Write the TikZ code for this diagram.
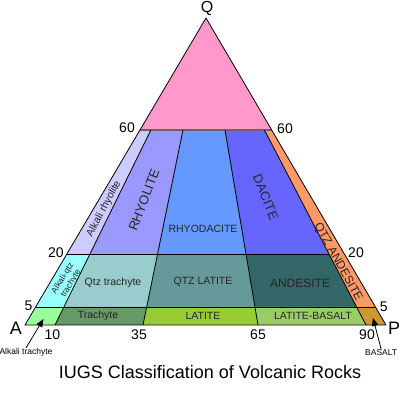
\documentclass[tikz,border=0pt]{standalone}
\usepackage{fontspec}
\setmainfont{Liberation Sans}
\usetikzlibrary{arrows.meta}
\definecolor{cquartz}{RGB}{255,153,204}
\definecolor{calkrhy}{RGB}{204,204,255}
\definecolor{crhy}{RGB}{153,153,255}
\definecolor{crhyda}{RGB}{102,153,255}
\definecolor{cdac}{RGB}{102,102,255}
\definecolor{cqand}{RGB}{255,153,102}
\definecolor{calkqtr}{RGB}{153,255,255}
\definecolor{cqtr}{RGB}{153,204,204}
\definecolor{cqlat}{RGB}{102,153,153}
\definecolor{cand}{RGB}{51,102,102}
\definecolor{calktr}{RGB}{153,255,153}
\definecolor{ctr}{RGB}{102,153,102}
\definecolor{clat}{RGB}{153,204,51}
\definecolor{clatbas}{RGB}{153,204,102}
\definecolor{cbas}{RGB}{204,153,51}
\tikzset{
  edge/.style={line width=0.8pt, line join=round},
  rock/.style={inner sep=0pt, text=black!85, font=\fontsize{10.5}{12}\selectfont},
  bigrock/.style={inner sep=0pt, text=black!85, font=\fontsize{13}{14}\selectfont},
  tick/.style={inner sep=0pt, font=\fontsize{14}{15}\selectfont},
  corner/.style={inner sep=0pt, font=\fontsize{18}{19}\selectfont},
  note/.style={inner sep=0pt, font=\fontsize{8.5}{9}\selectfont},
  pointer/.style={line width=0.8pt, -{Triangle[length=8pt,width=6.5pt]}}
}
\begin{document}
\begin{tikzpicture}[x=1pt,y=1pt]
\useasboundingbox (0,0) rectangle (402,403);
\coordinate (q) at (206,385);
\coordinate (b0) at (25,78);
\coordinate (b1) at (55,78);
\coordinate (b2) at (143,78);
\coordinate (b3) at (258,78);
\coordinate (b4) at (366,78);
\coordinate (b5) at (386,78);
\coordinate (f0) at (35.6,96);
\coordinate (f1) at (63.9,96);
\coordinate (f2) at (146.7,96);
\coordinate (f3) at (255,96);
\coordinate (f4) at (356.6,96);
\coordinate (f5) at (375.5,96);
\coordinate (t0) at (66.9,149);
\coordinate (t1) at (89.9,149);
\coordinate (t2) at (157.6,149);
\coordinate (t3) at (246,149);
\coordinate (t4) at (329,149);
\coordinate (t5) at (344.4,149);
\coordinate (s0) at (140,273);
\coordinate (s1) at (150.9,273);
\coordinate (s2) at (183,273);
\coordinate (s3) at (225,273);
\coordinate (s4) at (264.4,273);
\coordinate (s5) at (271.7,273);
\fill[cquartz] (q) -- (s0) -- (s5) -- cycle;
\fill[calkrhy] (t0) -- (t1) -- (s1) -- (s0) -- cycle;
\fill[crhy] (t1) -- (t2) -- (s2) -- (s1) -- cycle;
\fill[crhyda] (t2) -- (t3) -- (s3) -- (s2) -- cycle;
\fill[cdac] (t3) -- (t4) -- (s4) -- (s3) -- cycle;
\fill[cqand] (f4) -- (f5) -- (s5) -- (s4) -- cycle;
\fill[calkqtr] (f0) -- (f1) -- (t1) -- (t0) -- cycle;
\fill[cqtr] (f1) -- (f2) -- (t2) -- (t1) -- cycle;
\fill[cqlat] (f2) -- (f3) -- (t3) -- (t2) -- cycle;
\fill[cand] (f3) -- (f4) -- (t4) -- (t3) -- cycle;
\fill[calktr] (b0) -- (b1) -- (f1) -- (f0) -- cycle;
\fill[ctr] (b1) -- (b2) -- (f2) -- (f1) -- cycle;
\fill[clat] (b2) -- (b3) -- (f3) -- (f2) -- cycle;
\fill[clatbas] (b3) -- (b4) -- (f4) -- (f3) -- cycle;
\fill[cbas] (b4) -- (b5) -- (f5) -- (f4) -- cycle;
\draw[edge, black!60, line width=1.3pt] (s0) -- (s5);
\draw[edge] (t0) -- (t4);
\draw[edge] (f0) -- (f5);
\draw[edge] (s1) -- (b1);
\draw[edge] (s2) -- (b2);
\draw[edge] (s3) -- (b3);
\draw[edge] (s4) -- (b4);
\draw[edge] (q) -- (b0) -- (b5) -- cycle;
\node[rock, rotate=62] (alkrhy) at (104,194) {Alkali rhyolite};
\node[bigrock, rotate=69] (rhy) at (144,203) {RHYOLITE};
\node[rock] (rhyda) at (203,174) {RHYODACITE};
\node[bigrock, rotate=-68] (dac) at (265.7,205.7) {DACITE};
\node[rock, font=\fontsize{12}{13}\selectfont, rotate=-61] (qand) at (338,141) {QTZ ANDESITE};
\node[note, text=black!85, rotate=58, align=center, font=\fontsize{8.5}{9.5}\selectfont] (alkqtr) at (67,122) {Alkali-qtz\\trachyte};
\node[rock] (qtr) at (113,120) {Qtz trachyte};
\node[rock] (qlat) at (203,121) {QTZ LATITE};
\node[rock, font=\fontsize{12}{13}\selectfont] (and) at (300,120) {ANDESITE};
\node[rock] (tr) at (98,87) {Trachyte};
\node[rock] (lat) at (203,87) {LATITE};
\node[rock] (latbas) at (313,87) {LATITE-BASALT};
\node[corner, font=\fontsize{16}{17}\selectfont] (qlab) at (207,395) {Q};
\node[corner] (alab) at (16,75) {A};
\node[corner] (plab) at (394,75) {P};
\node[tick] (l60) at (127,275) {60};
\node[tick] (r60) at (285,274) {60};
\node[tick] (l20) at (56,150) {20};
\node[tick] (r20) at (356,150) {20};
\node[tick] (l5) at (28.5,97) {5};
\node[tick] (r5) at (383.7,96) {5};
\node[tick] (n10) at (52.5,68) {10};
\node[tick] (n35) at (139,68) {35};
\node[tick] (n65) at (258,68) {65};
\node[tick] (n90) at (367,68) {90};
\node[note] (alktr) at (26,51) {Alkali trachyte};
\node[note, anchor=west] (bas) at (365,50.5) {BASALT};
\coordinate (alktip) at (43.5,84);
\coordinate (bastip) at (373,85);
\draw[pointer] (alktr.north) -- (alktip);
\draw[pointer] (bas.north) -- (bastip);
\node[inner sep=0pt, anchor=base, font=\fontsize{18}{19}\selectfont] (title) at (210,24) {IUGS Classification of Volcanic Rocks};
\end{tikzpicture}
\end{document}
